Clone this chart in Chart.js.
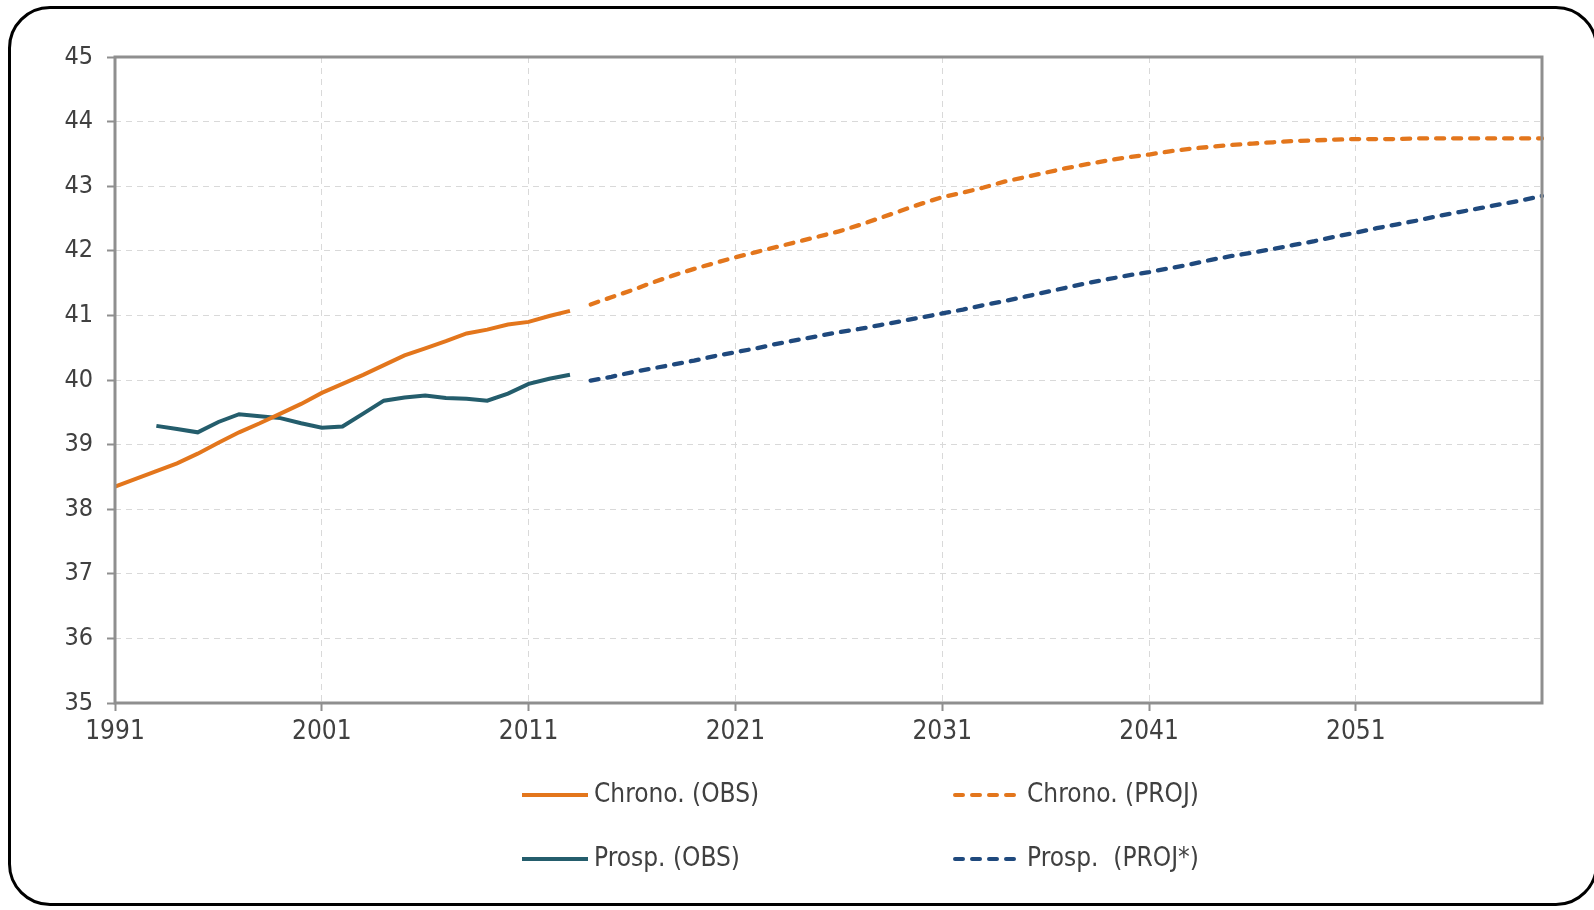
<!DOCTYPE html>
<html>
<head>
<meta charset="utf-8">
<script src="https://cdn.jsdelivr.net/npm/chart.js@4.4.1/dist/chart.umd.min.js"></script>
<style>
  html, body { margin: 0; padding: 0; background: #fff; overflow: hidden; }
  #wrap { position: relative; width: 1594px; height: 910px; }
  #frame {
    position: absolute; left: 8px; top: 6px; width: 1590px; height: 900px;
    border: 3px solid #000; border-radius: 42px; box-sizing: border-box;
  }
  #box { position: absolute; left: 0; top: 0; width: 1594px; height: 910px; }
</style>
</head>
<body>
<div id="wrap">
  <div id="frame"></div>
  <div id="box"><canvas id="myChart"></canvas></div>
</div>
<script>
// data
var firstYear = 1991;
var lastYear = 2060;
var years = [];
for (var y = firstYear; y <= lastYear; y++) years.push(String(y));

// Chrono. (OBS) 1991 - 2013
var chronoObs = [38.35, 38.47, 38.59, 38.71, 38.86, 39.03, 39.19, 39.33, 39.48, 39.63,
  39.80, 39.94, 40.08, 40.23, 40.38, 40.49, 40.60, 40.72, 40.78, 40.86,
  40.90, 40.99, 41.07];
// Prosp. (OBS) 1993 - 2013
var prospObs = [39.29, 39.24, 39.19, 39.35, 39.47, 39.44, 39.41, 39.33, 39.26, 39.28,
  39.48, 39.68, 39.73, 39.76, 39.72, 39.71, 39.68, 39.79, 39.94, 40.02, 40.08];
// Chrono. (PROJ) 2014 - 2060
var chronoProj = [41.17, 41.28, 41.39, 41.51, 41.62, 41.72, 41.81, 41.90, 41.98, 42.06,
  42.14, 42.22, 42.30, 42.40, 42.51, 42.62, 42.73, 42.83, 42.90, 42.98,
  43.07, 43.14, 43.21, 43.28, 43.34, 43.40, 43.45, 43.49, 43.54, 43.58,
  43.61, 43.64, 43.66, 43.68, 43.70, 43.71, 43.72, 43.73, 43.73, 43.73,
  43.74, 43.74, 43.74, 43.74, 43.74, 43.74, 43.74];
// Prosp. (PROJ*) 2014 - 2060
var prospProj = [39.99, 40.05, 40.12, 40.18, 40.24, 40.30, 40.37, 40.43, 40.49, 40.56,
  40.62, 40.68, 40.74, 40.79, 40.85, 40.91, 40.97, 41.03, 41.09, 41.16,
  41.22, 41.29, 41.36, 41.43, 41.50, 41.56, 41.62, 41.67, 41.73, 41.79,
  41.86, 41.92, 41.97, 42.03, 42.09, 42.15, 42.22, 42.28, 42.35, 42.41,
  42.47, 42.54, 42.60, 42.66, 42.72, 42.78, 42.85];

var yTicks = [35, 36, 37, 38, 39, 40, 41, 42, 43, 44, 45];

// place a series on the full year axis
function place(values, startYear) {
  var out = years.map(function () { return null; });
  var off = startYear - firstYear;
  values.forEach(function (v, i) { out[off + i] = v; });
  return out;
}

var ORANGE = "#E3761C";
var TEAL = "#245D6C";
var NAVY = "#1F497D";
var AXIS = "#8f8f8f";
var FONT = '"DejaVu Sans Condensed", "DejaVu Sans", sans-serif';

// plot frame + 2x2 legend
var framePlugin = {
  id: "frame",
  afterDatasetsDraw: function (chart) {
    var a = chart.chartArea, c = chart.ctx;
    c.save();
    c.strokeStyle = AXIS;
    c.lineWidth = 3;
    c.strokeRect(a.left, a.top, a.right - a.left, a.bottom - a.top);
    c.restore();
  },
  afterDraw: function (chart) {
    var c = chart.ctx;
    var cols = [520, 953];
    var rows = [795, 859];
    var order = [0, 2, 1, 3];
    c.save();
    c.font = "26px " + FONT;
    c.fillStyle = "#404040";
    c.textBaseline = "middle";
    order.forEach(function (di, k) {
      var ds = chart.data.datasets[di];
      var x = cols[k % 2], y = rows[Math.floor(k / 2)];
      c.strokeStyle = ds.borderColor;
      c.lineWidth = 4;
      c.lineCap = ds.borderDash.length ? "round" : "butt";
      c.setLineDash(ds.borderDash.length ? [8, 9] : []);
      c.beginPath();
      c.moveTo(x + 2, y);
      c.lineTo(x + 68, y);
      c.stroke();
      c.setLineDash([]);
      c.fillText(ds.label, x + 74, y);
    });
    c.restore();
  }
};

var ctx = document.getElementById("myChart").getContext("2d");
var myChart = new Chart(ctx, {
  type: "line",
  data: {
    labels: years,
    datasets: [
      {
        label: "Chrono. (OBS)",
        data: place(chronoObs, 1991),
        borderColor: ORANGE,
        borderWidth: 4,
        borderDash: [],
      },
      {
        label: "Prosp. (OBS)",
        data: place(prospObs, 1993),
        borderColor: TEAL,
        borderWidth: 4,
        borderDash: [],
      },
      {
        label: "Chrono. (PROJ)",
        data: place(chronoProj, 2014),
        borderColor: ORANGE,
        borderWidth: 4.3,
        borderDash: [8, 9],
        borderCapStyle: "round",
      },
      {
        label: "Prosp.  (PROJ*)",
        data: place(prospProj, 2014),
        borderColor: NAVY,
        borderWidth: 4.3,
        borderDash: [8, 9],
        borderCapStyle: "round",
      },
    ],
  },
  options: {
    responsive: true,
    maintainAspectRatio: false,
    animation: false,
    spanGaps: false,
    layout: {
      padding: { left: 0, top: 57, right: 52, bottom: 0 },
    },
    elements: {
      point: { radius: 0, hoverRadius: 0 },
      line: { tension: 0 },
    },
    plugins: {
      legend: { display: false },
      tooltip: { enabled: false },
    },
    scales: {
      x: {
        offset: false,
        afterFit: function (s) { s.height = 207; },
        grid: {
          color: "#d9d9d9",
          lineWidth: 1,
          tickLength: 8,
          tickColor: AXIS,
          tickWidth: 2,
        },
        border: { display: false, dash: [6, 5] },
        ticks: {
          autoSkip: false,
          maxRotation: 0,
          padding: 6,
          color: "#404040",
          font: { family: FONT, size: 26 },
          callback: function (v, i) {
            var yr = firstYear + i;
            return (yr - firstYear) % 10 === 0 ? String(yr) : null;
          },
        },
      },
      y: {
        min: 35,
        max: 45,
        afterFit: function (s) { s.width = 115; },
        afterBuildTicks: function (s) {
          s.ticks = yTicks.map(function (v) { return { value: v }; });
        },
        grid: {
          color: "#d9d9d9",
          lineWidth: 1,
          tickLength: 8,
          tickColor: AXIS,
          tickWidth: 2,
        },
        border: { display: false, dash: [6, 5] },
        ticks: {
          padding: 14,
          color: "#404040",
          font: { family: FONT, size: 25 },
        },
      },
    },
  },
  plugins: [framePlugin],
});
</script>
</body>
</html>
